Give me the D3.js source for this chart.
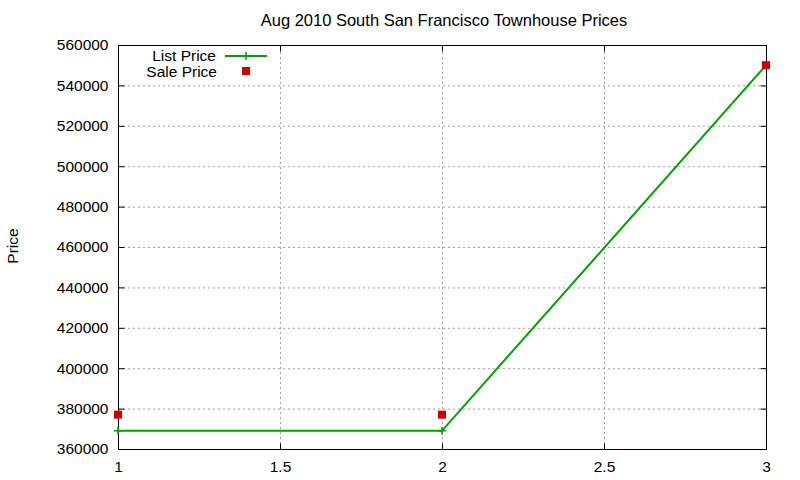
<!DOCTYPE html>
<html>
<head>
<meta charset="utf-8">
<script src="https://cdn.jsdelivr.net/npm/d3@7"></script>
<style>
  body { margin: 0; background: #fff; }
  text { font-family: "Liberation Sans", Arial, sans-serif; fill: #000; }
</style>
</head>
<body>
<svg id="chart" width="800" height="480"></svg>
<script>
const xValues = [1, 2, 3];
const listPrice = [369000, 369000, 550000];
const salePrice = [377000, 377000, 550000];
const xTicks = [1, 1.5, 2, 2.5, 3];
const yTicks = [360000, 380000, 400000, 420000, 440000, 460000, 480000, 500000, 520000, 540000, 560000];

const margin = { top: 45, right: 34, bottom: 31, left: 118 };
const width = 800, height = 480;
const fs = 15.5;

const svg = d3.select("#chart");

const x = d3.scaleLinear().domain([1, 3]).range([margin.left, width - margin.right]);
const y = d3.scaleLinear().domain([360000, 560000]).range([height - margin.bottom, margin.top]);

// grid
const grid = svg.append("g")
    .attr("stroke", "#a0a0a0")
    .attr("stroke-dasharray", "2,3")
    .attr("stroke-width", 1);

grid.selectAll(".gx")
    .data(xTicks.slice(1, -1))
    .enter()
    .append("line")
    .attr("x1", d => x(d) + 0.5).attr("x2", d => x(d) + 0.5)
    .attr("y1", y.range()[0]).attr("y2", y.range()[1]);

grid.selectAll(".gy")
    .data(yTicks.slice(1, -1))
    .enter()
    .append("line")
    .attr("y1", d => y(d) + 0.5).attr("y2", d => y(d) + 0.5)
    .attr("x1", x.range()[0]).attr("x2", x.range()[1]);

// axes
const xAxis = svg.append("g")
    .attr("transform", `translate(0,${y.range()[0] + 0.5})`)
    .call(d3.axisBottom(x).tickValues(xTicks).tickFormat(d3.format("")).tickSize(-6).tickPadding(11));

const yAxis = svg.append("g")
    .attr("transform", `translate(${x.range()[0] + 0.5},0)`)
    .call(d3.axisLeft(y).tickValues(yTicks).tickFormat(d3.format("d")).tickSize(-6).tickPadding(10));

[xAxis, yAxis].forEach(a => {
    a.select(".domain").remove();
    a.selectAll("line").attr("stroke", "#000");
    a.selectAll("text").attr("font-size", fs).attr("font-family", "Liberation Sans, Arial, sans-serif").attr("fill", "#000");
});

// mirrored ticks on top and right
svg.append("g")
    .attr("transform", `translate(0,${y.range()[1] + 0.5})`)
    .call(d3.axisTop(x).tickValues(xTicks).tickFormat("").tickSize(-6))
    .call(g => g.select(".domain").remove())
    .selectAll("line").attr("stroke", "#000");

svg.append("g")
    .attr("transform", `translate(${x.range()[1] + 0.5},0)`)
    .call(d3.axisRight(y).tickValues(yTicks).tickFormat("").tickSize(-6))
    .call(g => g.select(".domain").remove())
    .selectAll("line").attr("stroke", "#000");

// border
svg.append("rect")
    .attr("x", x.range()[0] + 0.5)
    .attr("y", y.range()[1] + 0.5)
    .attr("width", x.range()[1] - x.range()[0])
    .attr("height", y.range()[0] - y.range()[1])
    .attr("fill", "none")
    .attr("stroke", "#000")
    .attr("stroke-width", 1);

// list price line
const listData = xValues.map((v, i) => ({ x: v, y: listPrice[i] }));
const saleData = xValues.map((v, i) => ({ x: v, y: salePrice[i] }));

svg.append("path")
    .datum(listData)
    .attr("fill", "none")
    .attr("stroke", "#00a000")
    .attr("stroke-width", 2)
    .attr("d", d3.line().x(d => x(d.x)).y(d => y(d.y)));

const plus = (cx, cy) => `M${cx - 4},${cy}H${cx + 4}M${cx},${cy - 4}V${cy + 4}`;

svg.selectAll(".plus")
    .data(listData)
    .enter()
    .append("path")
    .attr("d", d => plus(x(d.x), y(d.y)))
    .attr("stroke", "#00a000")
    .attr("stroke-width", 1.5);

svg.selectAll(".sq")
    .data(saleData)
    .enter()
    .append("rect")
    .attr("x", d => x(d.x) - 4)
    .attr("y", d => y(d.y) - 4)
    .attr("width", 8)
    .attr("height", 8)
    .attr("fill", "#cc0000");

// legend
const legend = svg.append("g");
legend.append("text")
    .attr("x", 216).attr("y", 61)
    .attr("text-anchor", "end")
    .attr("font-size", fs)
    .text("List Price");
legend.append("line")
    .attr("x1", 225).attr("x2", 267).attr("y1", 56).attr("y2", 56)
    .attr("stroke", "#00a000").attr("stroke-width", 2);
legend.append("path")
    .attr("d", plus(246, 56))
    .attr("stroke", "#00a000").attr("stroke-width", 1.5);
legend.append("text")
    .attr("x", 217).attr("y", 77)
    .attr("text-anchor", "end")
    .attr("font-size", fs)
    .text("Sale Price");
legend.append("rect")
    .attr("x", 242).attr("y", 67).attr("width", 8).attr("height", 8)
    .attr("fill", "#cc0000");

// title and y label
svg.append("text")
    .attr("x", 444).attr("y", 26)
    .attr("text-anchor", "middle")
    .attr("font-size", 16.5)
    .text("Aug 2010 South San Francisco Townhouse Prices");

svg.append("text")
    .attr("transform", "translate(18,246) rotate(-90)")
    .attr("text-anchor", "middle")
    .attr("font-size", fs)
    .text("Price");
</script>
</body>
</html>
